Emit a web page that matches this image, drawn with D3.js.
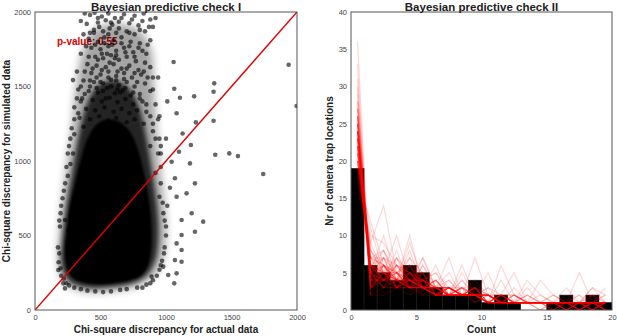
<!DOCTYPE html>
<html><head><meta charset="utf-8">
<script src="https://cdn.jsdelivr.net/npm/d3@7"></script>
<style>body{margin:0;background:#fff}svg{display:block;font-family:"Liberation Sans",Arial,sans-serif}</style>
</head><body>
<script>
// ---------- Left panel data ----------
const leftTitle = "Bayesian predictive check I";
const leftXLabel = "Chi-square discrepancy for actual data";
const leftYLabel = "Chi-square discrepancy for simulated data";
const leftTicks = [0, 500, 1000, 1500, 2000];
const pValueText = "p-value: 0.55";
const pValuePos = [168, 1778];
// dense cloud envelopes [actual, simulated]
const outerCloud = [[180,300],[215,190],[290,145],[420,120],[600,128],[780,160],[900,220],[975,340],[1000,540],[980,780],[950,1000],[925,1250],[905,1500],[885,1750],[790,1880],[600,1920],[450,1880],[360,1720],[310,1460],[280,1200],[245,980],[215,780],[192,560]];
const midCloud = [[200,320],[235,220],[300,172],[420,148],[580,155],[740,178],[850,232],[915,330],[940,480],[935,650],[910,830],[880,1000],[845,1180],[795,1360],[715,1490],[600,1540],[490,1510],[415,1420],[360,1270],[318,1090],[280,900],[240,700],[210,500]];
const coreCloud = [[232,330],[260,250],[305,206],[380,183],[480,173],[600,180],[720,198],[805,228],[860,292],[885,400],[890,540],[878,680],[855,820],[822,960],[785,1080],[730,1190],[650,1260],[555,1280],[470,1245],[400,1150],[350,1010],[302,840],[262,680],[240,520],[228,420]];
// individual draws
const scatterPts = [
[420,1980],[455,1995],[510,1970],[560,1990],[610,1960],[680,1985],[760,1975],[830,1990],[880,1950],[900,1900],
[350,1940],[395,1920],[480,1930],[540,1945],[590,1915],[640,1935],[720,1925],[790,1910],[450,1880],[520,1870],
[570,1890],[620,1860],[700,1870],[760,1850],[840,1870],[370,1850],[410,1820],[480,1800],[530,1830],[600,1810],
[660,1830],[730,1800],[800,1790],[880,1810],[430,1760],[500,1750],[560,1770],[620,1740],[680,1760],[750,1730],
[820,1740],[350,1720],[460,1700],[520,1690],[580,1710],[640,1680],[700,1700],[770,1670],[840,1660],[400,1650],
[470,1640],[540,1630],[600,1650],[660,1620],[720,1640],[790,1610],[880,1630],[320,1600],[430,1590],[500,1580],
[560,1600],[620,1570],[680,1590],[740,1560],[810,1580],[370,1540],[450,1530],[520,1520],[580,1545],[640,1510],
[700,1530],[760,1500],[840,1520],[330,1480],[410,1470],[480,1460],[550,1490],[610,1455],[670,1475],[730,1440],
[800,1450],[880,1470],[360,1420],[440,1410],[510,1400],[570,1425],[630,1395],[690,1415],[750,1380],[820,1400],
[300,1360],[390,1350],[460,1340],[530,1360],[600,1330],[660,1350],[720,1320],[780,1340],[850,1330],[340,1290],
[420,1280],[490,1300],[560,1270],[620,1290],[700,1260],[760,1280],[830,1250],[280,1220],[370,1230],[900,1200],
[260,1100],[880,1100],[240,960],[920,920],[220,800],[950,760],[200,700],[980,650],[190,560],[1000,560],
[175,420],[990,420],[180,320],[960,300],[200,230],[930,230],[240,180],[880,180],[300,150],[820,150],
[400,130],[700,140],[520,120],[290,1543],[450,1860],[510,1720],[610,1690],[470,1560],[650,1460],[540,1420],
[300,1180],[330,1320],[350,1400],[380,1450],[420,1500],[470,1490],[520,1470],[580,1500],[630,1480],[690,1490],
[750,1460],[800,1420],[850,1380],[880,1300],[900,1250],[920,1150],[940,1050],[960,960],[290,1050],[270,980],
[250,900],[230,850],[210,750],[195,650],[185,600],[960,850],[975,720],[990,600],[1000,500],[985,380],
[970,330],[950,270],[900,200],[850,170],[780,150],[650,135],[580,125],[460,125],[350,140],[260,165],
[220,210],[195,280],[185,380],[380,1600],[440,1620],[510,1610],[570,1660],[630,1600],[700,1620],[760,1590],
[830,1600],[900,1560],[410,1700],[480,1680],[550,1720],[620,1710],[690,1730],[760,1700],[850,1720],[390,1770],
[460,1780],[530,1790],[590,1780],[660,1790],[720,1770],[790,1760],[860,1780],[420,1860],[490,1900],[560,1850],
[640,1890],[720,1860],[800,1880],[870,1900],[380,1990],[480,1960],[580,1930],[660,1960],[740,1950],[820,1940],
[920,1960],[350,1500],[320,1420],[420,1540],[500,1530],[560,1560],[620,1540],[680,1550],[780,1530],[860,1560],
[900,1480],[920,1380],[300,1280],[940,1280],[270,1150],[250,1050],[950,1150],[960,1100],
[1058,1664],[1368,1521],[1363,1465],[1215,1434],[1106,1425],[1063,1485],[1936,1646],[1997,1369],[1363,1270],[1228,1259],
[1127,1185],[1190,1107],[1376,1042],[1483,1051],[1549,1033],[1183,984],[1099,1062],[1081,1320],[1742,913],[1221,850],
[1157,783],[1196,649],[1284,593],[1221,525],[1119,604],[1119,503],[1119,403],[1119,324],[1063,179],[1081,246],
[1017,235],[1068,335],[1081,447],[1081,760],[1068,884],[1043,995],[216,179],[229,145],[178,268],[229,604],
[254,537],[979,291],[890,224],[1010,700],[1030,820],[960,1050],[1000,1150],[950,1300],[1010,1400],[940,1560]
];

// ---------- Right panel data ----------
const rightTitle = "Bayesian predictive check II";
const rightXLabel = "Count";
const rightYLabel = "Nr of camera trap locations";
const rightXTicks = [0, 5, 10, 15, 20];
const rightYTicks = [0, 5, 10, 15, 20, 25, 30, 35, 40];
const countBins = [0,1,2,3,4,5,6,7,8,9,10,11,12,13,14,15,16,17,18,19];
const observedCounts = [19,6,5,4,6,5,3,2,2,4,1,2,1,0,0,1,2,1,2,1];
const simulatedCounts = [
[22,5,6,5,4,4,3,3,2,2,1,2,1,1,1,1,1,1,0,1],
[25,4,4,6,5,3,3,2,2,3,2,1,1,1,0,1,1,0,1,1],
[20,7,8,4,5,3,4,2,3,2,2,1,1,1,1,1,0,1,1,0],
[27,3,5,4,3,4,2,3,2,3,1,2,2,1,1,1,1,0,1,1],
[24,5,3,7,5,3,3,2,2,2,2,2,1,1,1,0,1,1,1,1],
[30,2,6,3,4,5,2,2,3,2,2,1,1,1,1,1,0,1,1,0],
[18,9,14,5,3,4,3,4,2,2,1,1,2,1,1,1,1,1,1,1],
[23,6,7,3,6,3,4,2,2,2,3,1,1,1,1,1,1,1,0,1],
[26,3,4,5,7,3,2,3,3,1,2,2,1,1,1,0,1,1,2,0],
[21,7,6,4,3,6,3,2,2,2,2,1,1,2,1,1,0,1,1,1],
[36,2,3,3,2,3,2,2,2,2,1,1,1,1,1,1,1,1,0,1],
[19,11,5,4,10,3,4,2,2,3,1,1,1,1,1,1,1,1,1,2],
[24,4,7,6,3,4,3,3,2,2,2,1,1,1,1,0,1,1,1,1],
[28,5,3,4,5,4,2,3,2,2,1,2,1,1,1,1,0,1,1,0],
[22,7,4,8,3,3,4,2,3,1,2,1,2,1,0,1,1,1,1,1],
[25,3,5,5,6,5,2,2,3,2,1,1,1,1,1,1,1,1,1,0],
[17,12,6,4,4,3,3,3,2,3,2,1,1,1,1,1,1,0,1,1],
[23,6,5,3,4,7,3,2,2,2,1,2,1,1,1,1,0,1,1,1],
[26,5,6,4,3,3,6,2,2,2,1,1,1,1,1,1,1,0,1,1],
[20,6,8,5,4,3,2,3,2,2,2,1,1,1,1,1,1,1,0,1],
[31,3,4,4,3,3,2,2,2,2,2,1,1,1,1,1,1,0,1,0],
[22,8,5,10,4,3,3,2,2,2,1,1,1,1,0,1,1,1,1,1],
[24,4,5,4,8,3,3,2,2,3,1,2,1,1,1,1,1,1,0,1],
[21,5,7,4,4,3,3,5,2,2,1,1,2,1,1,1,1,0,1,1],
[27,6,4,5,3,5,2,2,4,2,1,1,1,1,1,1,0,1,1,0],
[23,3,5,7,4,3,2,3,2,2,2,1,1,1,1,1,1,2,0,1],
[19,7,6,4,6,4,3,2,2,2,1,2,1,1,1,1,1,1,1,0],
[25,5,4,3,4,3,3,2,5,2,1,1,1,1,1,1,0,1,1,1],
[22,6,5,6,4,4,2,2,2,4,2,1,1,1,1,1,1,0,1,1],
[28,4,3,3,5,3,3,2,2,2,1,4,1,1,1,0,1,1,1,0],
[20,9,5,4,3,5,3,2,2,2,2,1,2,1,1,1,1,0,1,1],
[24,5,7,5,3,3,3,3,2,2,1,1,1,2,1,1,0,1,1,1],
[26,3,6,4,4,3,2,4,2,2,1,1,1,1,1,1,1,1,0,1],
[21,6,4,6,5,3,3,2,3,2,2,1,1,1,1,1,1,0,2,1],
[23,7,5,3,3,6,3,2,2,3,1,1,1,1,1,1,1,1,1,1],
[29,4,4,4,3,3,4,2,2,2,2,1,1,1,1,0,1,1,1,1],
[22,5,8,4,3,3,2,3,2,2,1,2,1,1,1,1,1,1,1,0],
[24,6,4,5,6,3,3,3,2,2,1,1,1,1,1,1,1,0,1,1],
[20,8,6,3,5,4,5,2,2,2,1,1,1,1,1,1,0,1,1,1],
[25,4,4,6,4,3,2,3,2,3,1,1,2,1,1,1,1,1,0,1],
[23,5,3,4,9,4,2,3,2,2,2,1,1,1,1,1,1,1,1,0],
[21,7,7,3,3,7,3,2,2,2,1,1,1,1,1,1,1,0,1,1],
[26,4,4,5,4,2,3,7,2,2,1,2,1,1,1,1,0,1,1,1],
[24,6,5,3,5,3,2,2,6,2,1,1,1,1,1,1,1,1,1,1],
[22,5,4,7,3,3,4,2,2,7,2,1,1,1,1,1,1,0,1,1],
[27,3,6,3,4,3,2,3,2,2,5,1,1,1,1,1,1,1,0,1],
[20,6,5,4,4,4,3,2,2,2,1,6,2,1,1,1,1,1,1,0],
[25,5,3,6,4,3,3,3,2,2,1,2,5,1,1,1,1,1,1,1],
[23,4,6,4,3,3,2,2,2,2,2,1,1,4,2,1,1,1,3,1],
[24,5,5,5,3,4,3,2,2,2,2,1,1,1,4,2,1,5,1,3],
[16,10,9,6,5,4,3,3,2,2,2,1,1,1,1,1,1,1,1,0],
[33,2,2,3,3,2,2,2,2,1,2,1,1,1,1,1,1,1,0,1],
[24,6,5,4,7,5,2,2,3,2,1,2,2,1,1,1,1,1,1,1],
[22,4,6,5,4,4,5,3,2,2,1,1,1,1,1,2,1,1,1,1],
[25,5,4,4,4,3,3,2,3,3,1,1,1,3,1,1,1,1,2,1],
[21,8,5,5,3,3,3,3,2,2,3,2,1,1,1,1,2,1,1,1],
[26,3,5,4,6,3,2,3,2,2,1,1,3,1,2,1,1,1,1,2],
[23,6,4,3,4,4,3,2,4,2,2,1,1,1,1,1,3,1,1,1],
[20,5,10,4,4,3,3,2,2,2,1,2,1,2,1,1,1,2,1,1],
[24,5,6,5,3,3,2,2,2,3,2,1,1,1,1,2,1,1,3,2]
];

const W = 617, H = 336;
const svg = d3.select("body").append("svg").attr("width", W).attr("height", H);
const frameColor = "#555", tickColor = "#444";
const defs = svg.append("defs");
function addBlur(id, s){
  defs.append("filter").attr("id",id).attr("x","-20%").attr("y","-20%").attr("width","140%").attr("height","140%")
    .append("feGaussianBlur").attr("stdDeviation", s);
}
addBlur("blurA", 4.5); addBlur("blurB", 2.5); addBlur("blurC", 0.9);

// ---------- Left panel ----------
const xL = d3.scaleLinear().domain([0, 2000]).range([35, 297]);
const yL = d3.scaleLinear().domain([0, 2000]).range([310, 12]);
defs.append("clipPath").attr("id","clipL").append("rect")
  .attr("x", xL(0)).attr("y", yL(2000)).attr("width", xL(2000)-xL(0)).attr("height", yL(0)-yL(2000));
const gL = svg.append("g");
const pts = gL.append("g").attr("clip-path","url(#clipL)");
pts.append("text").attr("x", xL(pValuePos[0])).attr("y", yL(pValuePos[1]))
  .attr("fill","#e00000").attr("font-weight","bold").attr("font-size", 10).text(pValueText);
const cloudLine = d3.line().x(d => xL(d[0])).y(d => yL(d[1])).curve(d3.curveCatmullRomClosed);
pts.append("path").attr("d", cloudLine(outerCloud)).attr("fill","#000").attr("opacity",0.35).attr("filter","url(#blurA)");
pts.append("path").attr("d", cloudLine(midCloud)).attr("fill","#000").attr("opacity",0.78).attr("filter","url(#blurB)");
pts.append("path").attr("d", cloudLine(coreCloud)).attr("fill","#000").attr("filter","url(#blurC)");
pts.selectAll("circle").data(scatterPts).join("circle")
  .attr("cx", d => xL(d[0])).attr("cy", d => yL(d[1])).attr("r", 2.3)
  .attr("fill","#000").attr("fill-opacity",0.6);
pts.append("line").attr("x1", xL(0)).attr("y1", yL(0)).attr("x2", xL(2000)).attr("y2", yL(2000))
  .attr("stroke","#e00000").attr("stroke-width",1.4);

function styleAxis(g){
  g.select(".domain").remove();
  g.selectAll("text").attr("fill", tickColor).attr("font-size", 7.5);
}
gL.append("g").attr("transform",`translate(0,${yL(0)})`)
  .call(d3.axisBottom(xL).tickValues(leftTicks).tickSize(0).tickPadding(5).tickFormat(d3.format("d"))).call(styleAxis);
gL.append("g").attr("transform",`translate(${xL(0)},0)`)
  .call(d3.axisLeft(yL).tickValues(leftTicks).tickSize(0).tickPadding(4).tickFormat(d3.format("d"))).call(styleAxis);
gL.append("rect").attr("x", xL(0)).attr("y", yL(2000)).attr("width", xL(2000)-xL(0)).attr("height", yL(0)-yL(2000))
  .attr("fill","none").attr("stroke", frameColor).attr("stroke-width",1);
gL.append("text").attr("x",(xL(0)+xL(2000))/2).attr("y",11).attr("text-anchor","middle")
  .attr("font-weight","bold").attr("font-size",11.5).attr("fill","#222").text(leftTitle);
gL.append("text").attr("x",(xL(0)+xL(2000))/2).attr("y",333).attr("text-anchor","middle")
  .attr("font-weight","bold").attr("font-size",10).attr("fill","#222").text(leftXLabel);
gL.append("text").attr("transform",`translate(10,${(yL(0)+yL(2000))/2}) rotate(-90)`).attr("text-anchor","middle")
  .attr("font-weight","bold").attr("font-size",10).attr("fill","#222").text(leftYLabel);

// ---------- Right panel ----------
const xR = d3.scaleLinear().domain([0, 20]).range([351, 612]);
const yR = d3.scaleLinear().domain([0, 40]).range([310, 12]);
defs.append("clipPath").attr("id","clipR").append("rect")
  .attr("x", xR(0)).attr("y", yR(40)).attr("width", xR(20)-xR(0)).attr("height", yR(0)-yR(40));
const gR = svg.append("g");
const plotR = gR.append("g").attr("clip-path","url(#clipR)");
plotR.selectAll("rect.bar").data(countBins).join("rect").attr("class","bar")
  .attr("x", d => xR(d)).attr("width", d => xR(d+1)-xR(d))
  .attr("y", (d,i) => yR(observedCounts[i])).attr("height", (d,i) => yR(0)-yR(observedCounts[i]))
  .attr("fill","#000").attr("stroke","#1a1a1a").attr("stroke-width",0.6);
const simLine = d3.line().x((d,i) => xR(countBins[i] + 0.5)).y(d => yR(d));
plotR.selectAll("path.sim").data(simulatedCounts).join("path").attr("class","sim")
  .attr("d", simLine).attr("fill","none").attr("stroke","#ff0000")
  .attr("stroke-opacity",0.16).attr("stroke-width",1.2);
gR.append("g").attr("transform",`translate(0,${yR(0)})`)
  .call(d3.axisBottom(xR).tickValues(rightXTicks).tickSize(0).tickPadding(5)).call(styleAxis);
gR.append("g").attr("transform",`translate(${xR(0)},0)`)
  .call(d3.axisLeft(yR).tickValues(rightYTicks).tickSize(0).tickPadding(4)).call(styleAxis);
gR.append("rect").attr("x", xR(0)).attr("y", yR(40)).attr("width", xR(20)-xR(0)).attr("height", yR(0)-yR(40))
  .attr("fill","none").attr("stroke", frameColor).attr("stroke-width",1);
gR.append("text").attr("x",(xR(0)+xR(20))/2).attr("y",11).attr("text-anchor","middle")
  .attr("font-weight","bold").attr("font-size",11.5).attr("fill","#222").text(rightTitle);
gR.append("text").attr("x",(xR(0)+xR(20))/2).attr("y",333).attr("text-anchor","middle")
  .attr("font-weight","bold").attr("font-size",10).attr("fill","#222").text(rightXLabel);
gR.append("text").attr("transform",`translate(333,${(yR(0)+yR(40))/2}) rotate(-90)`).attr("text-anchor","middle")
  .attr("font-weight","bold").attr("font-size",10).attr("fill","#222").text(rightYLabel);
</script>
</body></html>
